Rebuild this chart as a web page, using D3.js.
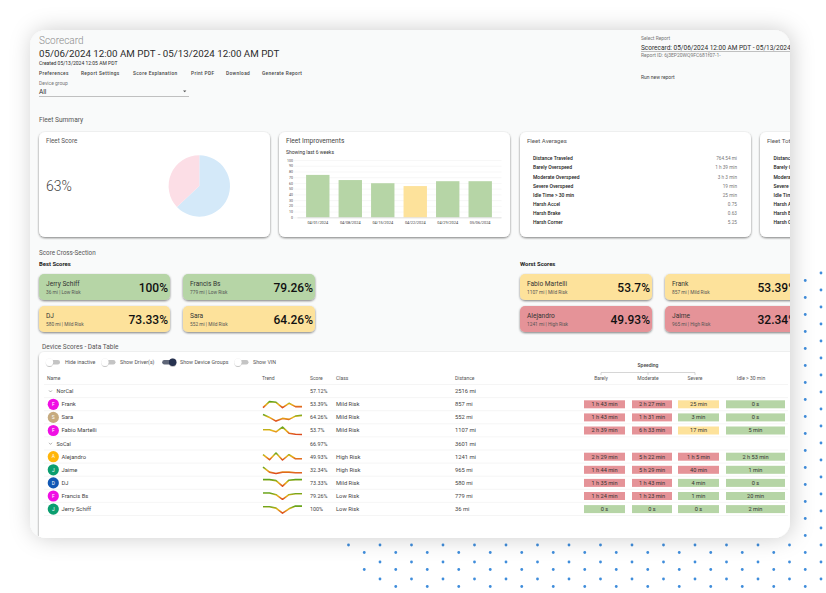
<!DOCTYPE html>
<html>
<head>
<meta charset="utf-8">
<title>Scorecard</title>
<script src="https://cdn.jsdelivr.net/npm/d3@7"></script>
<style>
  html, body { margin: 0; background: #fff; overflow: hidden; }
  svg { display: block; font-family: Roboto, sans-serif; }
</style>
</head>
<body>
<svg id="page" width="826" height="593"></svg>
<script>
const GREEN = "#b6d5a6", YELLOW = "#fde29b", RED = "#e59398";
const INK = "#2b2b2b", GREY = "#777";

const fleetScore = 63;
const weeks = [
  {date: "04/01/2024", value: 74, color: GREEN},
  {date: "04/08/2024", value: 65, color: GREEN},
  {date: "04/15/2024", value: 59.5, color: GREEN},
  {date: "04/22/2024", value: 54.5, color: YELLOW},
  {date: "04/29/2024", value: 63, color: GREEN},
  {date: "05/06/2024", value: 63, color: GREEN}
];
const averages = [
  ["Distance Traveled", "764.54 mi"],
  ["Barely Overspeed", "1 h 39 min"],
  ["Moderate Overspeed", "3 h 3 min"],
  ["Severe Overspeed", "19 min"],
  ["Idle Time > 30 min", "25 min"],
  ["Harsh Accel", "0.75"],
  ["Harsh Brake", "0.63"],
  ["Harsh Corner", "5.25"]
];
const scoreCards = [
  {x: 39, y: 274, w: 131, name: "Jerry Schiff", sub: "36 mi | Low Risk", pct: "100%", color: GREEN},
  {x: 183, y: 274, w: 132, name: "Francis Bs", sub: "779 mi | Low Risk", pct: "79.26%", color: GREEN},
  {x: 39, y: 306, w: 131, name: "DJ", sub: "580 mi | Mild Risk", pct: "73.33%", color: YELLOW},
  {x: 183, y: 306, w: 132, name: "Sara", sub: "552 mi | Mild Risk", pct: "64.26%", color: YELLOW},
  {x: 520, y: 274, w: 132, name: "Fabio Martelli", sub: "1107 mi | Mild Risk", pct: "53.7%", color: YELLOW},
  {x: 665, y: 274, w: 134, name: "Frank", sub: "857 mi | Mild Risk", pct: "53.39%", color: YELLOW},
  {x: 520, y: 306, w: 132, name: "Alejandro", sub: "1241 mi | High Risk", pct: "49.93%", color: RED},
  {x: 665, y: 306, w: 134, name: "Jaime", sub: "965 mi | High Risk", pct: "32.34%", color: RED}
];
// g/y/r = pill colour for each time cell
const rows = [
  {group: "NorCal", score: "57.12%", dist: "2516 mi"},
  {name: "Frank", init: "F", av: "#f00fe4", score: "53.39%", cls: "Mild Risk", dist: "857 mi",
   trend: [17, 77, 70, 17, 60, 27, 27],
   cells: [["1 h 43 min", "r"], ["2 h 27 min", "r"], ["25 min", "y"], ["0 s", "g"]]},
  {name: "Sara", init: "S", av: "#c6ab80", score: "64.26%", cls: "Mild Risk", dist: "552 mi",
   trend: [80, 50, 13, 40, 30, 63, 70],
   cells: [["1 h 43 min", "r"], ["1 h 31 min", "r"], ["3 min", "g"], ["0 s", "g"]]},
  {name: "Fabio Martelli", init: "F", av: "#f00fe4", score: "53.7%", cls: "Mild Risk", dist: "1107 mi",
   trend: [57, 57, 37, 83, 23, 13, 10],
   cells: [["2 h 39 min", "r"], ["6 h 33 min", "r"], ["17 min", "y"], ["5 min", "g"]]},
  {group: "SoCal", score: "66.97%", dist: "3601 mi"},
  {name: "Alejandro", init: "A", av: "#ffb50a", score: "49.93%", cls: "High Risk", dist: "1241 mi",
   trend: [70, 20, 87, 17, 70, 30, 30],
   cells: [["2 h 29 min", "r"], ["5 h 22 min", "r"], ["1 h 5 min", "r"], ["2 h 53 min", "g"]]},
  {name: "Jaime", init: "J", av: "#0b9e6f", score: "32.34%", cls: "High Risk", dist: "965 mi",
   trend: [77, 27, 13, 27, 27, 20, 20],
   cells: [["1 h 44 min", "r"], ["5 h 29 min", "r"], ["40 min", "r"], ["1 min", "g"]]},
  {name: "DJ", init: "D", av: "#1258b4", score: "73.33%", cls: "Mild Risk", dist: "580 mi",
   trend: [83, 83, 73, 17, 77, 83, 83],
   cells: [["1 h 35 min", "r"], ["1 h 43 min", "r"], ["4 min", "g"], ["0 s", "g"]]},
  {name: "Francis Bs", init: "F", av: "#f00fe4", score: "79.26%", cls: "Low Risk", dist: "779 mi",
   trend: [80, 80, 63, 17, 63, 73, 73],
   cells: [["1 h 24 min", "r"], ["1 h 23 min", "r"], ["1 min", "g"], ["20 min", "g"]]},
  {name: "Jerry Schiff", init: "J", av: "#0b9e6f", score: "100%", cls: "Low Risk", dist: "36 mi",
   trend: [73, 73, 60, 10, 53, 80, 80],
   cells: [["0 s", "g"], ["0 s", "g"], ["0 s", "g"], ["2 min", "g"]]}
];
const pillColor = {g: GREEN, y: YELLOW, r: RED};
const pillX = [[584, 41], [632, 40], [678, 41], [726, 59]];

const svg = d3.select("#page");
const defs = svg.append("defs");

const panelShadow = defs.append("filter").attr("id", "panelShadow")
  .attr("x", "-10%").attr("y", "-10%").attr("width", "120%").attr("height", "120%");
panelShadow.append("feDropShadow").attr("dx", 2).attr("dy", 0).attr("stdDeviation", 11)
  .attr("flood-color", "#000").attr("flood-opacity", 0.2);

const cardShadow = defs.append("filter").attr("id", "cardShadow")
  .attr("x", "-10%").attr("y", "-10%").attr("width", "120%").attr("height", "130%");
cardShadow.append("feDropShadow").attr("dx", 0).attr("dy", 1).attr("stdDeviation", 1.1)
  .attr("flood-color", "#000").attr("flood-opacity", 0.5);

const knobShadow = defs.append("filter").attr("id", "knobShadow")
  .attr("x", "-50%").attr("y", "-50%").attr("width", "200%").attr("height", "200%");
knobShadow.append("feDropShadow").attr("dx", 0).attr("dy", 0.5).attr("stdDeviation", 0.6)
  .attr("flood-color", "#000").attr("flood-opacity", 0.45);

const spark = defs.append("linearGradient").attr("id", "spark")
  .attr("x1", 0).attr("y1", 0).attr("x2", 0).attr("y2", 1);
spark.selectAll("stop")
  .data([[0, "#5fa31c"], [0.45, "#e8b51a"], [1, "#dd4a1f"]])
  .join("stop")
  .attr("offset", d => d[0])
  .attr("stop-color", d => d[1]);

defs.append("clipPath").attr("id", "panelClip")
  .append("rect").attr("x", 30).attr("y", 30).attr("width", 760).attr("height", 508).attr("rx", 16);

// dots behind the panel
const dotCols = d3.range(0, 31);
const dots = [];
dotCols.forEach(c => {
  const x = 348.5 + c * 15.75;
  const off = c % 2 ? 7.5 : 0;
  d3.range(0, 20).forEach(r => {
    const y = 256 + off + r * 17;
    const inRight = x > 790 && y > 268;
    const inBottom = y > 540 && y < 592 && (x - 348) > (y - 546) * 0.55;
    if (inRight || inBottom) dots.push([x, y]);
  });
});
svg.append("g").selectAll("circle")
  .data(dots)
  .join("circle")
  .attr("cx", d => d[0])
  .attr("cy", d => d[1])
  .attr("r", 1.4)
  .attr("fill", "#3f8ddb");

svg.append("rect")
  .attr("x", 30).attr("y", 30).attr("width", 760).attr("height", 508).attr("rx", 16)
  .attr("fill", "#f9fafa")
  .attr("filter", "url(#panelShadow)");

const page = svg.append("g").attr("clip-path", "url(#panelClip)");

function label(parent, x, y, str, size, opts) {
  opts = opts || {};
  return parent.append("text")
    .attr("x", x).attr("y", y)
    .attr("font-size", size)
    .attr("font-weight", opts.weight || 400)
    .attr("fill", opts.fill || INK)
    .attr("text-anchor", opts.anchor || "start")
    .attr("letter-spacing", opts.spacing || null)
    .text(str);
}
function card(parent, x, y, w, h, fill, rx) {
  return parent.append("rect")
    .attr("x", x).attr("y", y).attr("width", w).attr("height", h).attr("rx", rx || 6)
    .attr("fill", fill || "#fff")
    .attr("filter", "url(#cardShadow)");
}

// header
label(page, 39, 44, "Scorecard", 10, {fill: "#8a8a8a", weight: 300});
label(page, 39, 57, "05/06/2024 12:00 AM PDT - 05/13/2024 12:00 AM PDT", 9.75);
label(page, 39, 64.5, "Created 05/13/2024 12:05 AM PDT", 5);
[[39, "Preferences"], [81, "Report Settings"], [133, "Score Explanation"], [191, "Print PDF"], [226, "Download"], [262, "Generate Report"]]
  .forEach(d => label(page, d[0], 75, d[1], 4.8, {weight: 500, spacing: 0.35, fill: "#444"}));
label(page, 39, 85, "Device group", 5, {fill: GREY});
label(page, 39, 94, "All", 6.5);
page.append("line").attr("x1", 39).attr("x2", 189).attr("y1", 96.5).attr("y2", 96.5).attr("stroke", "#999").attr("stroke-width", 0.6);
page.append("path").attr("d", "M183,90.5h3.4l-1.7,1.8z").attr("fill", "#555");
label(page, 39, 122, "Fleet Summary", 6.6, {fill: "#555"});

label(page, 641, 40, "Select Report", 4.9, {fill: GREY});
label(page, 641, 49.5, "Scorecard: 05/06/2024 12:00 AM PDT - 05/13/2024 12:00 AM PDT", 6.5);
page.append("line").attr("x1", 641).attr("x2", 790).attr("y1", 51.5).attr("y2", 51.5).attr("stroke", "#999").attr("stroke-width", 0.6);
label(page, 641, 57, "Report ID: 6j3EP20WQ9FC681f07-1-", 5, {fill: GREY});
label(page, 641, 79, "Run new report", 5, {fill: "#444"});

// fleet score
card(page, 39, 132, 231, 105);
label(page, 46, 143, "Fleet Score", 6.3, {fill: "#555"});
label(page, 46, 191, fleetScore + "%", 14, {fill: "#444", weight: 300});
const pie = d3.pie().sort(null)([fleetScore, 100 - fleetScore]);
page.append("g").attr("transform", "translate(199.3,186)")
  .selectAll("path")
  .data(pie)
  .join("path")
  .attr("d", d3.arc().innerRadius(0).outerRadius(30.7))
  .attr("fill", (d, i) => ["#d4e9f9", "#fcdee6"][i]);

// fleet improvements
card(page, 279, 132, 231, 105);
label(page, 286, 143, "Fleet Improvements", 6.6, {fill: "#444"});
label(page, 286, 153.5, "Showing last 6 weeks", 5, {fill: "#333"});

const barX = d3.scaleBand().domain(weeks.map(d => d.date)).range([297, 501]).padding(0.28);
const barY = d3.scaleLinear().domain([0, 100]).range([217.3, 160]);

const yAxis = page.append("g").attr("transform", "translate(294,0)")
  .call(d3.axisLeft(barY).tickValues(d3.range(0, 101, 10)).tickSize(-207.5).tickPadding(1));
yAxis.select(".domain").remove();
yAxis.selectAll("line").attr("stroke", "#eee").attr("stroke-width", 0.5);
yAxis.selectAll("text").attr("font-size", 3.6).attr("font-family", "Roboto").attr("fill", "#555");

page.selectAll("rect.bar")
  .data(weeks)
  .join("rect")
  .attr("class", "bar")
  .attr("x", d => barX(d.date))
  .attr("y", d => barY(d.value))
  .attr("width", barX.bandwidth())
  .attr("height", d => barY(0) - barY(d.value))
  .attr("fill", d => d.color);

const xAxis = page.append("g").attr("transform", "translate(0,217.3)")
  .call(d3.axisBottom(barX).tickSize(0).tickPadding(4));
xAxis.select(".domain").attr("stroke", "#ccc").attr("stroke-width", 0.5);
xAxis.selectAll("text").attr("font-size", 3.9).attr("font-family", "Roboto").attr("fill", "#444");

// fleet averages and totals
card(page, 520, 132, 231, 105);
label(page, 527, 143, "Fleet Averages", 6.1, {fill: "#555"});
card(page, 760, 132, 60, 105);
label(page, 767, 143, "Fleet Totals", 6.1, {fill: "#555"});
averages.forEach((d, i) => {
  const y = 160.2 + i * 9.15;
  label(page, 533, y, d[0], 5, {weight: 500, fill: "#222"});
  label(page, 737, y, d[1], 4.7, {anchor: "end", fill: GREY});
  label(page, 773.5, y, d[0], 5, {weight: 500, fill: "#222"});
});

// score cross-section
label(page, 39, 255, "Score Cross-Section", 6.3, {fill: "#555"});
label(page, 39, 266, "Best Scores", 5.9, {weight: 700, fill: "#222"});
label(page, 520, 266, "Worst Scores", 5.9, {weight: 700, fill: "#222"});
scoreCards.forEach(d => {
  card(page, d.x, d.y, d.w, 26, d.color, 5);
  label(page, d.x + 7, d.y + 11.5, d.name, 6.6, {fill: "#333"});
  label(page, d.x + 7, d.y + 20, d.sub, 4.8, {fill: "#555"});
  label(page, d.x + d.w - 2, d.y + 17.5, d.pct, 12, {anchor: "end", weight: 500, fill: "#111"});
});

// table
label(page, 42, 349, "Device Scores - Data Table", 6.5, {fill: "#555"});
card(page, 39, 352, 780, 220, "#fff", 5);

[
  {knob: 49.5, name: "Hide inactive", tx: 65},
  {knob: 105, name: "Show Driver(s)", tx: 120},
  {knob: 172.7, name: "Show Device Groups", tx: 180, on: true},
  {knob: 238, name: "Show VIN", tx: 253}
].forEach(d => {
  const x0 = d.on ? d.knob - 10.5 : d.knob;
  page.append("rect").attr("x", x0).attr("y", 360).attr("width", 10.5).attr("height", 4.5).attr("rx", 2.2)
    .attr("fill", d.on ? "#5f6678" : "#c4c4c4");
  page.append("circle").attr("cx", d.knob).attr("cy", 362.2).attr("r", 3.7)
    .attr("fill", d.on ? "#27304f" : "#fff")
    .attr("filter", "url(#knobShadow)");
  label(page, d.tx, 364, d.name, 5.3, {fill: "#555"});
});

const head = {size: 5, fill: "#555"};
[[47, "Name"], [262, "Trend"], [310, "Score"], [336, "Class"], [455, "Distance"]]
  .forEach(d => label(page, d[0], 380, d[1], head.size, {fill: head.fill}));
[[601, "Barely"], [648, "Moderate"], [695, "Severe"], [751, "Idle > 30 min"]]
  .forEach(d => label(page, d[0], 380, d[1], head.size, {fill: head.fill, anchor: "middle"}));
label(page, 648, 367, "Speeding", 5, {anchor: "middle", weight: 500, fill: "#444"});
page.append("path").attr("d", "M601,375V372.5H695V375M648,372.5V375")
  .attr("fill", "none").attr("stroke", "#bbb").attr("stroke-width", 0.6);

const rowY = d3.scaleLinear().domain([0, 1]).range([391.2, 404.3]);
const trendX = d3.scaleLinear().domain([0, 6]).range([263, 302]);

page.append("g").selectAll("line")
  .data(d3.range(-1, rows.length))
  .join("line")
  .attr("x1", 44).attr("x2", 788)
  .attr("y1", d => rowY(d) + 6.4)
  .attr("y2", d => rowY(d) + 6.4)
  .attr("stroke", "#eee").attr("stroke-width", 0.6);

rows.forEach((d, i) => {
  const cy = rowY(i);
  const g = page.append("g");
  const base = cy + 1.9;
  label(g, 310, base, d.score, 5.4, {fill: "#444"});
  label(g, 455, base, d.dist, 5.8, {fill: "#444"});
  if (d.group) {
    g.append("path").attr("d", `M49,${cy - 0.8}l1.5,1.6l1.5,-1.6`).attr("fill", "none").attr("stroke", "#666").attr("stroke-width", 0.5);
    label(g, 56.5, base, d.group, 5.5, {fill: "#444"});
    return;
  }
  g.append("circle").attr("cx", 53.3).attr("cy", cy).attr("r", 5.6).attr("fill", d.av);
  label(g, 53.3, cy + 1.7, d.init, 4.8, {anchor: "middle", fill: "#fff"});
  label(g, 61.5, base, d.name, 5.8, {fill: "#444"});
  label(g, 336, base, d.cls, 5.8, {fill: "#444"});

  const trendY = d3.scaleLinear().domain([0, 100]).range([cy + 5, cy - 5]);
  g.append("path")
    .datum(d.trend)
    .attr("d", d3.line().x((v, k) => trendX(k)).y(v => trendY(v)))
    .attr("fill", "none")
    .attr("stroke", "url(#spark)")
    .attr("stroke-linejoin", "round")
    .attr("stroke-width", 1.6);

  d.cells.forEach((c, k) => {
    g.append("rect")
      .attr("x", pillX[k][0]).attr("y", cy - 4).attr("width", pillX[k][1]).attr("height", 8)
      .attr("fill", pillColor[c[1]]);
    label(g, pillX[k][0] + pillX[k][1] / 2, base, c[0], 5.6, {anchor: "middle", fill: "#333"});
  });
});
</script>
</body>
</html>
